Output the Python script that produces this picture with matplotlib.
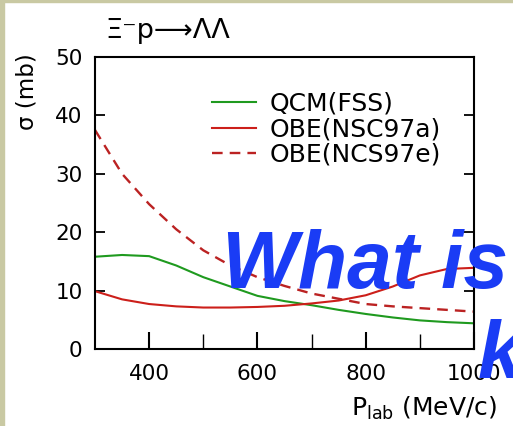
import matplotlib
matplotlib.use('Agg')
import matplotlib.pyplot as plt
from matplotlib.patches import Rectangle

plt.rcParams['font.family'] = ['DejaVu Sans']

# momentum (MeV/c) and cross sections (mb)
p_lab = [300, 350, 400, 450, 500, 550, 600, 650, 700, 750, 800, 850, 900, 950, 1000]
qcm_fss = [15.8, 16.1, 15.9, 14.3, 12.3, 10.7, 9.1, 8.2, 7.5, 6.7, 6.0, 5.4, 4.9, 4.6, 4.4]
obe_nsc97a = [9.9, 8.5, 7.7, 7.3, 7.1, 7.1, 7.2, 7.4, 7.8, 8.3, 9.2, 10.7, 12.6, 13.7, 13.9]
obe_ncs97e = [37.5, 30.0, 24.8, 20.5, 16.9, 14.3, 12.3, 10.8, 9.5, 8.6, 7.7, 7.3, 7.0, 6.7, 6.4]
labels = ['QCM(FSS)', 'OBE(NSC97a)', 'OBE(NCS97e)']

fig = plt.figure(figsize=(5.13, 4.26), dpi=100)
fig.patches.append(Rectangle((0, 0), 4/513, 1, transform=fig.transFigure, color='#c9c9a3', zorder=0))
fig.patches.append(Rectangle((0, 1-2/426), 1, 2/426, transform=fig.transFigure, color='#c9c9a3', zorder=0))

ax = fig.add_axes([95/513, 77/426, 379/513, 292/426])
ax.plot(p_lab, qcm_fss, color='#1f9a1f', lw=1.5, label=labels[0])
ax.plot(p_lab, obe_nsc97a, color='#cc1f1a', lw=1.5, label=labels[1])
ax.plot(p_lab, obe_ncs97e, color='#bb2222', lw=1.7, dashes=(4.5, 3), label=labels[2])

ax.set_xlim(300, 1000)
ax.set_ylim(0, 50)
ax.set_xticks([400, 600, 800, 1000])
ax.set_xticks([500, 700, 900], minor=True)
ax.set_yticks([0, 10, 20, 30, 40, 50])
ax.tick_params(axis='y', direction='in', length=7.5, width=1.3, right=True, labelsize=15.5, pad=9)
ax.tick_params(axis='x', which='major', direction='in', length=12.5, width=1.5, labelsize=15.5, pad=11)
ax.tick_params(axis='x', which='minor', direction='in', length=11, width=1.0)
for s in ax.spines.values():
    s.set_linewidth(1.5)

ax.legend(loc='upper left', bbox_to_anchor=(212/513, 1-92/426), bbox_transform=fig.transFigure,
          frameon=False, fontsize=18, handlelength=1.75, handletextpad=0.55,
          labelspacing=0.05, borderpad=0, borderaxespad=0)

fig.text(105/513, 1-31/426, 'Ξ⁻p⟶ΛΛ', fontsize=19.5, va='center', ha='left')
fig.text(27/513, 1-92/426, 'σ (mb)', fontsize=16.5, rotation=90, va='center', ha='center')
fig.text(497/513, 1-408/426, r'P$_{\mathrm{lab}}$ (MeV/c)', fontsize=18, va='center', ha='right')

# overlaid slide text
fig.text(222/513, 1-288/426, 'What is', fontsize=58, color='#1a3cf5', family='Liberation Sans',
         fontweight='bold', fontstyle='italic', va='baseline', ha='left')
fig.text(478/513, 1-378/426, 'k', fontsize=58, color='#1a3cf5', family='Liberation Sans',
         fontweight='bold', fontstyle='italic', va='baseline', ha='left')

fig.savefig('out.png', dpi=100)
